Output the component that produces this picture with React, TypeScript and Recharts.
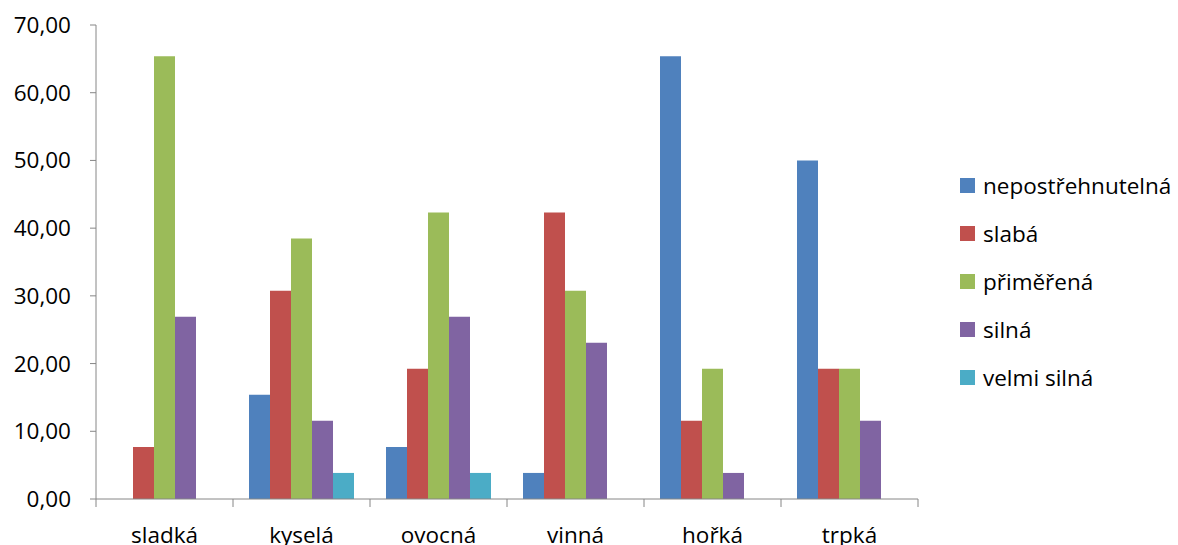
import React from 'react'
import { BarChart, Bar, XAxis, YAxis } from 'recharts'

const categories = ['sladká', 'kyselá', 'ovocná', 'vinná', 'hořká', 'trpká']
const nepostrehnutelna = [0, 15.38, 7.69, 3.85, 65.38, 50.0]
const slaba = [7.69, 30.77, 19.23, 42.31, 11.54, 19.23]
const primerena = [65.38, 38.46, 42.31, 30.77, 19.23, 19.23]
const silna = [26.92, 11.54, 26.92, 23.08, 3.85, 11.54]
const velmiSilna = [0, 3.85, 3.85, 0, 0, 0]
const yTicks = [0, 10, 20, 30, 40, 50, 60, 70]

const series = [
  { key: 'nepostrehnutelna', name: 'nepostřehnutelná', color: '#4F81BD', values: nepostrehnutelna },
  { key: 'slaba', name: 'slabá', color: '#C0504D', values: slaba },
  { key: 'primerena', name: 'přiměřená', color: '#9BBB59', values: primerena },
  { key: 'silna', name: 'silná', color: '#8064A2', values: silna },
  { key: 'velmiSilna', name: 'velmi silná', color: '#4BACC6', values: velmiSilna },
]

const data = categories.map((name, i) => {
  const row: Record<string, string | number> = { name }
  series.forEach(s => { row[s.key] = s.values[i] })
  return row
})

const FONT = '"Open Sans", "Noto Sans", sans-serif'
const FS = 22.5
const AXIS = '#868686'
const W = 1178
const H = 545
const margin = { top: 25, right: 260, bottom: 0, left: 0 }
const yAxisWidth = 96

const fmt = (v: number) => v.toFixed(2).replace('.', ',')

const XTick = (props: any) => {
  const { x, y, payload, index, visibleTicksCount } = props
  const half = payload?.offset || (W - margin.right - yAxisWidth) / categories.length / 2
  const last = index === visibleTicksCount - 1
  return (
    <g>
      <line x1={x - half} x2={x - half} y1={y} y2={y + 8} stroke={AXIS} />
      {last && <line x1={x + half} x2={x + half} y1={y} y2={y + 8} stroke={AXIS} />}
      <text x={x} y={y + 44} textAnchor="middle" fontSize={FS} fontFamily={FONT} fill="#000">
        {payload.value}
      </text>
    </g>
  )
}

const App = () => {
  return (
    <div style={{ position: 'absolute', left: 0, top: 0, width: W, height: H, background: '#fff' }}>
      <BarChart width={W} height={H} data={data} margin={margin} barCategoryGap={16} barGap={0}>
        <XAxis
          dataKey="name"
          height={46}
          axisLine={{ stroke: AXIS }}
          tickLine={false}
          tickSize={0}
          tickMargin={0}
          tick={<XTick />}
          interval={0}
        />
        <YAxis
          width={yAxisWidth}
          domain={[0, 70]}
          ticks={yTicks}
          tickFormatter={fmt}
          axisLine={{ stroke: AXIS }}
          tickLine={{ stroke: AXIS }}
          tickSize={6}
          tickMargin={19}
          tick={{ fontSize: FS, fontFamily: FONT, fill: '#000' }}
          interval={0}
        />
        {series.map(s => (
          <Bar key={s.key} dataKey={s.key} name={s.name} fill={s.color} isAnimationActive={false} />
        ))}
      </BarChart>
      <div style={{ position: 'absolute', left: 960, top: 161, fontFamily: FONT, fontSize: FS, color: '#000' }}>
        {series.map(s => (
          <div key={s.key} style={{ display: 'flex', alignItems: 'center', height: 48, whiteSpace: 'nowrap' }}>
            <span style={{ width: 15, height: 15, background: s.color, marginRight: 8, display: 'inline-block' }} />
            <span>{s.name}</span>
          </div>
        ))}
      </div>
    </div>
  )
}

export default App
